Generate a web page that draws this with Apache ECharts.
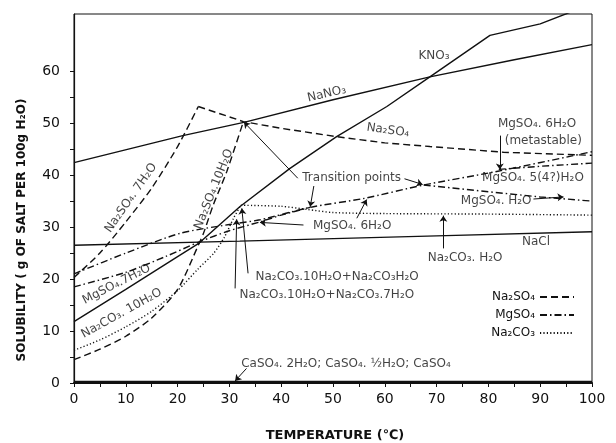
<!DOCTYPE html>
<html>
<head>
<meta charset="utf-8">
<script src="https://cdn.jsdelivr.net/npm/echarts@6.0.0/dist/echarts.min.js"></script>
<style>
  html, body { margin: 0; padding: 0; background: #fff; }
  #chart { width: 616px; height: 443px; }
</style>
</head>
<body>
<div id="chart"></div>
<script>
// solid curves
const nano3 = [[0, 42.4], [21, 47.6], [33, 50.2], [50, 54.5], [68.7, 58.9], [85, 62.2], [100, 65.1]];
const kno3 = [[0, 11.8], [10, 18], [20, 24.3], [24, 26.8], [32, 33.9], [41.7, 41.3], [50.7, 47.4], [60.4, 53.2], [68.7, 58.9], [80.3, 66.9], [90, 69.1], [97, 71.8]];
const nacl = [[0, 26.5], [32, 27.3], [70, 28.3], [100, 29.1]];
const caso4 = [[0, 0.3], [100, 0.3]];

// Na2SO4 (dashed)
const na2so4Deca = [[0, 4.5], [5, 6.5], [10, 9], [15, 12.5], [20, 18], [24, 26.5], [25, 28.8], [26.9, 34.3], [29.5, 40.7], [32.7, 50.3]];
const na2so4Hepta = [[0, 20.3], [5, 25], [10, 31], [15, 37.5], [20, 45.5], [24, 53.2]];
const na2so4Anh = [[24, 53.2], [32.7, 50.3], [40, 49], [50.7, 47.4], [60, 46.2], [68.7, 45.5], [82.9, 44.4], [100, 43.8]];

// MgSO4 (dash-dot)
const mgso4Hepta = [[0, 18.5], [10, 21.3], [17.6, 24.3], [24.3, 27.2], [30, 29.3], [35.9, 31], [40, 32.3], [45.6, 33.8]];
const mgso4Hexa = [[0, 21], [10, 25], [20.5, 28.8], [30, 30.5], [35.9, 31.4], [45.6, 33.8], [55.9, 35.5], [67.5, 38.1], [81.6, 40.7], [100, 44.5]];
const mgso4Mono = [[67.5, 38.1], [80, 36.8], [90, 35.8], [100, 35]];
const mgso4Penta = [[82, 41.1], [90, 41.7], [100, 42.3]];

// Na2CO3 (dotted)
const na2co3Deca = [[0, 6.3], [5, 8.3], [10, 10.8], [15, 13.8], [20, 17.8], [24, 22], [27, 25], [29, 28], [30.8, 31.7], [32.2, 34.2]];
const na2co3Mono = [[32.2, 34.2], [40, 34], [45, 33.4], [50, 32.8], [60, 32.6], [80, 32.5], [100, 32.3]];

// axis ticks
const xTicks = [0, 5, 10, 15, 20, 25, 30, 35, 40, 45, 50, 55, 60, 65, 70, 75, 80, 85, 90, 95, 100];
const xLabels = [0, 10, 20, 30, 40, 50, 60, 70, 80, 90, 100];
const yTicks = [0, 5, 10, 15, 20, 25, 30, 35, 40, 45, 50, 55, 60];
const yLabels = [0, 10, 20, 30, 40, 50, 60];

// text notes: [text, temperature, solubility, rotation]
const notes = [
  ['NaNO₃', 48.8, 55.6, 13],
  ['KNO₃', 69.5, 63.0, 0],
  ['Na₂SO₄', 60.6, 48.6, -8],
  ['MgSO₄. 6H₂O', 89.4, 49.8, 0],
  ['(metastable)', 90.6, 46.6, 0],
  ['Transition points', 53.6, 39.4, 0],
  ['MgSO₄. 5(4?)H₂O', 88.6, 39.4, 0],
  ['MgSO₄. H₂O', 81.5, 35.1, 0],
  ['MgSO₄. 6H₂O', 53.7, 30.3, 0],
  ['NaCl', 89.2, 27.1, 0],
  ['Na₂CO₃. H₂O', 75.5, 24.0, 0],
  ['Na₂CO₃.10H₂O+Na₂CO₃H₂O', 50.8, 20.5, 0],
  ['Na₂CO₃.10H₂O+Na₂CO₃.7H₂O', 48.8, 16.9, 0],
  ['CaSO₄. 2H₂O; CaSO₄. ½H₂O; CaSO₄', 52.5, 3.6, 0],
  ['Na₂SO₄. 7H₂O', 11.0, 35.6, 55],
  ['Na₂SO₄.10H₂O', 27.0, 37.3, 68],
  ['MgSO₄.7H₂O', 8.2, 19.0, 27],
  ['Na₂CO₃. 10H₂O', 9.2, 13.4, 29]
];

// arrows from note to curve
const leaders = [
  [[43.2, 39.4], [32.8, 50.2]],
  [[46.3, 37.9], [45.6, 33.9]],
  [[63.8, 39.3], [67.3, 38.2]],
  [[82.2, 47.6], [82.2, 41.1]],
  [[88.7, 35.4], [94.5, 35.8]],
  [[44.3, 30.4], [35.9, 30.9]],
  [[54.6, 31.7], [56.5, 35.3]],
  [[71.3, 25.9], [71.3, 32.2]],
  [[31.1, 18.2], [31.4, 31.5]],
  [[33.6, 21.1], [32.4, 33.6]],
  [[33.3, 2.8], [31.1, 0.4]]
];

const FONT = 'DejaVu Sans';
const INK = '#111';
const DASH = [7, 4];
const DASHDOT = [7, 3, 1.5, 3];
const DOT = [1.2, 2.2];

const curve = (name, data, type, smooth) => ({
  name,
  type: 'line',
  data,
  symbol: 'none',
  smooth: smooth || false,
  silent: true,
  itemStyle: { color: INK },
  lineStyle: { color: INK, width: 1.4, type },
  z: 3
});

const chart = echarts.init(document.getElementById('chart'));

chart.setOption({
  animation: false,
  backgroundColor: '#fff',
  grid: {
    left: 74, top: 14, right: 24, bottom: 60,
    show: true, borderColor: INK, borderWidth: 1
  },
  legend: {
    data: ['Na₂SO₄', 'MgSO₄', 'Na₂CO₃'],
    orient: 'vertical',
    right: 36,
    top: 286,
    align: 'right',
    itemWidth: 34,
    itemHeight: 14,
    itemGap: 6,
    selectedMode: false,
    itemStyle: { opacity: 0 },
    textStyle: { fontFamily: FONT, fontSize: 12, color: INK }
  },
  xAxis: {
    type: 'value',
    min: 0,
    max: 100,
    interval: 5,
    axisLine: { lineStyle: { color: INK, width: 2 } },
    axisTick: { length: 4, customValues: xTicks, lineStyle: { color: INK } },
    axisLabel: { customValues: xLabels, margin: 9, fontFamily: FONT, fontSize: 14, color: INK },
    splitLine: { show: false }
  },
  yAxis: {
    type: 'value',
    min: 0,
    max: 71,
    interval: 5,
    axisLine: { show: true, lineStyle: { color: INK, width: 1.2 } },
    axisTick: { show: true, length: 4, customValues: yTicks, lineStyle: { color: INK } },
    axisLabel: { customValues: yLabels, margin: 14, fontFamily: FONT, fontSize: 14, color: INK },
    splitLine: { show: false }
  },
  graphic: [
    {
      type: 'text', x: 22, y: 230, rotation: Math.PI / 2,
      style: {
        text: 'SOLUBILITY ( g OF SALT PER 100g H₂O)',
        fontFamily: FONT, fontSize: 12, fontWeight: 'bold', fill: INK,
        align: 'center', verticalAlign: 'middle'
      }
    },
    {
      type: 'text', x: 335, y: 436,
      style: {
        text: 'TEMPERATURE (℃)',
        fontFamily: FONT, fontSize: 13, fontWeight: 'bold', fill: INK,
        align: 'center', verticalAlign: 'middle'
      }
    }
  ],
  series: [
    curve('NaNO₃', nano3, 'solid'),
    curve('KNO₃', kno3, 'solid'),
    curve('NaCl', nacl, 'solid'),
    Object.assign(curve('CaSO₄', caso4, 'solid'), { lineStyle: { color: INK, width: 1.6 } }),
    curve('Na₂SO₄', na2so4Deca, DASH, 0.25),
    curve('Na₂SO₄', na2so4Hepta, DASH, 0.25),
    curve('Na₂SO₄', na2so4Anh, DASH),
    curve('MgSO₄', mgso4Hepta, DASHDOT, 0.25),
    curve('MgSO₄', mgso4Hexa, DASHDOT, 0.25),
    curve('MgSO₄', mgso4Mono, DASHDOT),
    curve('MgSO₄', mgso4Penta, DASHDOT),
    curve('Na₂CO₃', na2co3Deca, DOT, 0.25),
    curve('Na₂CO₃', na2co3Mono, DOT, 0.25),
    {
      name: 'leaders',
      type: 'lines',
      coordinateSystem: 'cartesian2d',
      silent: true,
      symbol: ['none', 'arrow'],
      symbolSize: 6,
      lineStyle: { color: INK, width: 1, curveness: 0, opacity: 1 },
      data: leaders.map(l => ({ coords: l })),
      z: 4
    },
    {
      name: 'notes',
      type: 'scatter',
      silent: true,
      symbolSize: 0,
      itemStyle: { color: 'transparent' },
      data: notes.map(n => ({
        name: n[0],
        value: [n[1], n[2]],
        label: { rotate: n[3] }
      })),
      label: {
        show: true,
        position: 'inside',
        formatter: p => p.name,
        fontFamily: FONT,
        fontSize: 12,
        color: INK,
        textBorderWidth: 0,
        textBorderColor: 'transparent'
      },
      z: 5
    }
  ]
});
</script>
</body>
</html>
